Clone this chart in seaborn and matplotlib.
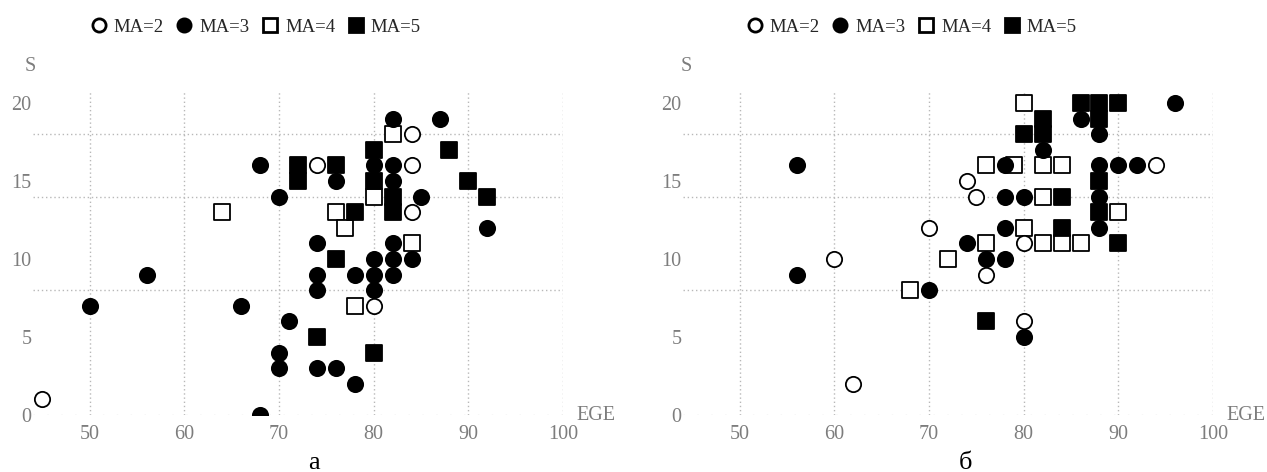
import matplotlib
matplotlib.use("Agg")
import matplotlib.pyplot as plt
from matplotlib.lines import Line2D
import pandas as pd
import seaborn as sns

# ---- data: EGE score vs S, grouped by MA level ----
# panel "а"
a_ma2_ege = [45, 74, 84, 84, 84, 80]
a_ma2_s = [1, 16, 18, 16, 13, 7]

a_ma3_ege = [50, 56, 66, 68, 68, 70, 70, 70, 71, 74, 74, 74, 74, 76, 76, 78, 78,
             80, 80, 80, 80, 82, 82, 82, 82, 82, 82, 84, 85, 87, 92]
a_ma3_s = [7, 9, 7, 16, 0, 14, 4, 3, 6, 11, 9, 8, 3, 15, 3, 9, 2,
           16, 10, 9, 8, 19, 16, 15, 11, 10, 9, 10, 14, 19, 12]

a_ma4_ege = [64, 76, 77, 78, 80, 82, 84]
a_ma4_s = [13, 13, 12, 7, 14, 18, 11]

a_ma5_ege = [72, 72, 74, 76, 76, 78, 80, 80, 80, 82, 82, 88, 90, 92]
a_ma5_s = [16, 15, 5, 16, 10, 13, 17, 15, 4, 14, 13, 17, 15, 14]

# panel "б"
b_ma2_ege = [60, 62, 70, 74, 75, 76, 80, 80, 94]
b_ma2_s = [10, 2, 12, 15, 14, 9, 11, 6, 16]

b_ma3_ege = [56, 56, 70, 74, 76, 78, 78, 78, 78, 80, 80, 82, 86, 88, 88, 88, 88,
             90, 92, 96]
b_ma3_s = [16, 9, 8, 11, 10, 16, 14, 12, 10, 14, 5, 17, 19, 18, 16, 14, 12,
           16, 16, 20]

b_ma4_ege = [68, 72, 76, 79, 76, 80, 80, 82, 82, 82, 84, 84, 86, 90]
b_ma4_s = [8, 10, 16, 16, 11, 20, 12, 16, 14, 11, 16, 11, 11, 13]

b_ma5_ege = [76, 80, 82, 82, 84, 84, 86, 88, 88, 88, 88, 90, 90]
b_ma5_s = [6, 18, 19, 18, 14, 12, 20, 20, 19, 15, 13, 20, 11]

ma_levels = [2, 3, 4, 5]
ma_labels = ["MA=2", "MA=3", "MA=4", "MA=5"]
panel_names = ["а", "б"]
x_ticks = [50, 60, 70, 80, 90, 100]
y_ticks = [0, 5, 10, 15, 20]
h_grid = [8, 14, 18]


def frame(groups):
    rows = []
    for ma, (xs, ys) in zip(ma_levels, groups):
        rows += [{"EGE": x, "S": y, "MA": ma} for x, y in zip(xs, ys)]
    return pd.DataFrame(rows)


panels = [
    frame([(a_ma2_ege, a_ma2_s), (a_ma3_ege, a_ma3_s),
           (a_ma4_ege, a_ma4_s), (a_ma5_ege, a_ma5_s)]),
    frame([(b_ma2_ege, b_ma2_s), (b_ma3_ege, b_ma3_s),
           (b_ma4_ege, b_ma4_s), (b_ma5_ege, b_ma5_s)]),
]

sns.set_style("white")
plt.rcParams["font.family"] = ["Liberation Serif", "DejaVu Serif"]

style = {
    2: dict(marker="o", face="white"),
    3: dict(marker="o", face="black"),
    4: dict(marker="s", face="white"),
    5: dict(marker="s", face="black"),
}
draw_order = [4, 2, 5, 3]

fig = plt.figure(figsize=(12.67, 4.72), dpi=100)
W, H = 1267, 472
axes_px = [(33, 563), (683, 1213)]
top_px, bot_px = 90, 415
legend_cx = [256, 912]
label_cx = [314, 965]
grey = "#7d7d7d"
grid_c = "#b8b8b8"

for i, df in enumerate(panels):
    l, r = axes_px[i]
    ax = fig.add_axes([l / W, (H - bot_px) / H, (r - l) / W, (bot_px - top_px) / H])
    ax.set_xlim(44, 100)
    ax.set_ylim(0, 20.83)

    for xv in x_ticks:
        ax.axvline(xv, color=grid_c, lw=1.0, ls=(0, (1, 2)), zorder=0)
    for yv in h_grid:
        ax.axhline(yv, color=grid_c, lw=1.0, ls=(0, (1, 2)), zorder=0)
    ax.axhline(0, color="#d8d8d8", lw=1.0, ls=(0, (1, 9)), zorder=0)

    for ma in draw_order:
        sub = df[df["MA"] == ma]
        sns.scatterplot(data=sub, x="EGE", y="S", marker=style[ma]["marker"],
                        color=style[ma]["face"], edgecolor="black",
                        linewidth=1.3, s=121, ax=ax, legend=False, zorder=3)

    for sp in ax.spines.values():
        sp.set_visible(False)
    ax.set_xticks(x_ticks)
    ax.set_yticks(y_ticks)
    ax.set_xlabel("")
    ax.set_ylabel("")
    ax.tick_params(axis="both", length=0, labelsize=14.5, labelcolor=grey)
    ax.tick_params(axis="x", pad=7)
    ax.tick_params(axis="y", pad=1)

    ax.text(1.026, 0.0, "EGE", transform=ax.transAxes, ha="left",
            va="center", fontsize=14.5, color=grey)
    s_x = (30 - l) / (r - l) if i == 0 else (686 - l) / (r - l)
    ax.text(s_x, (bot_px - 67) / (bot_px - top_px), "S", transform=ax.transAxes,
            ha="center", va="center", fontsize=14.5, color=grey)

    handles = [Line2D([], [], ls="none", marker=style[m]["marker"],
                      markerfacecolor=style[m]["face"], markeredgecolor="black",
                      markeredgewidth=2.0, markersize=9.5) for m in ma_levels]
    ax.legend(handles, ma_labels, loc="center",
              bbox_to_anchor=((legend_cx[i] - l) / (r - l),
                              (bot_px - 27) / (bot_px - top_px)),
              ncol=4, frameon=False, fontsize=13.5, handlelength=0.8,
              handletextpad=0.4, columnspacing=0.7, borderpad=0)

    fig.text(label_cx[i] / W, (H - 452) / H, panel_names[i], ha="center",
             va="top", fontsize=19, color="black")

fig.savefig("out.png", dpi=100)
